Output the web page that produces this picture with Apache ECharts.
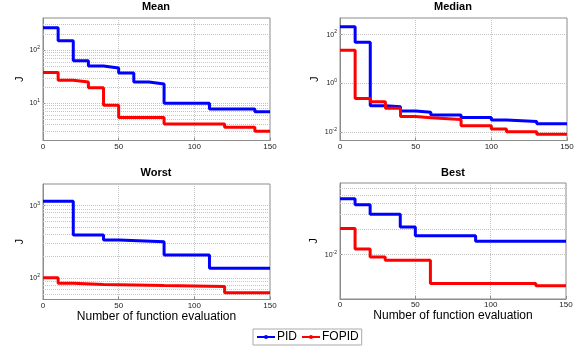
<!DOCTYPE html>
<html>
<head>
<meta charset="utf-8">
<script src="https://cdn.jsdelivr.net/npm/echarts@6/dist/echarts.min.js"></script>
<style>
  html, body { margin: 0; padding: 0; background: #fff; }
  #chart { width: 582px; height: 352px; }
</style>
</head>
<body>
<div id="chart"></div>
<script>
// Convergence of the objective J over function evaluations (step curves)

// x axis ticks (number of function evaluations)
const evalTicks = [0, 50, 100, 150];

// Mean
const meanPidX = [0, 10, 20, 30, 40, 50, 60, 70, 80, 110, 140, 150];
const meanPidJ = [262, 149, 63, 50, 46, 37, 25, 23, 10, 7.8, 6.9, 6.9];
const meanFopidX = [0, 10, 20, 30, 40, 50, 80, 120, 140, 150];
const meanFopidJ = [38, 27, 25, 19.6, 9.2, 5.4, 4.1, 3.55, 3.0, 3.0];
const meanTicks = [10, 100];

// Median
const medianPidX = [0, 10, 20, 30, 40, 50, 60, 80, 100, 110, 130, 150];
const medianPidJ = [209, 48, 0.121, 0.110, 0.073, 0.065, 0.050, 0.040, 0.031, 0.027, 0.022, 0.022];
const medianFopidX = [0, 10, 20, 30, 40, 50, 60, 80, 100, 110, 130, 150];
const medianFopidJ = [23, 0.24, 0.176, 0.094, 0.043, 0.039, 0.033, 0.018, 0.0134, 0.0104, 0.0081, 0.0081];
const medianTicks = [0.01, 1, 100];

// Worst
const worstPidX = [0, 20, 40, 50, 80, 110, 150];
const worstPidJ = [1150, 392, 334, 317, 207, 136, 136];
const worstFopidX = [0, 10, 20, 40, 80, 120, 150];
const worstFopidJ = [100, 84, 81, 78, 76, 62, 62];
const worstTicks = [100, 1000];

// Best
const bestPidX = [0, 10, 20, 40, 50, 90, 150];
const bestPidJ = [0.0456, 0.0387, 0.030, 0.0212, 0.0167, 0.01435, 0.01435];
const bestFopidX = [0, 10, 20, 30, 60, 130, 150];
const bestFopidJ = [0.0204, 0.01166, 0.0094, 0.0086, 0.00456, 0.00431, 0.00431];
const bestTicks = [0.01];

const panelTitles = ['Mean', 'Median', 'Worst', 'Best'];
const seriesNames = ['PID', 'FOPID'];

const PID_COLOR = '#0000ff';
const FOPID_COLOR = '#ff0000';
const FRAME = '#8c8c8c';
const GRIDLINE = '#c4c4c4';
const FONT = 'Liberation Sans, Arial, sans-serif';

const panels = [
  { pid: [meanPidX, meanPidJ], fopid: [meanFopidX, meanFopidJ], ticks: meanTicks, min: 2, max: 400, minor: true,
    grid: { left: 43, top: 18, width: 227, height: 122.5 }, title: [156, 1], xName: false, jGap: 18 },
  { pid: [medianPidX, medianPidJ], fopid: [medianFopidX, medianFopidJ], ticks: medianTicks, min: 0.0045, max: 480, minor: false,
    grid: { left: 340, top: 18, width: 227, height: 122.5 }, title: [453, 1], xName: false, jGap: 20 },
  { pid: [worstPidX, worstPidJ], fopid: [worstFopidX, worstFopidJ], ticks: worstTicks, min: 50, max: 2000, minor: true,
    grid: { left: 43, top: 184, width: 227, height: 115.5 }, title: [156, 167], xName: true, jGap: 16 },
  { pid: [bestPidX, bestPidJ], fopid: [bestFopidX, bestFopidJ], ticks: bestTicks, min: 0.003, max: 0.07, minor: true,
    grid: { left: 340, top: 183, width: 226, height: 116 }, title: [453, 167], xName: true, jGap: 21 }
];

function pairs(xs, ys) { return xs.map((x, i) => [x, ys[i]]); }

// values 2..9 x 10^d lying strictly inside the axis range, for minor grid lines
function minorValues(min, max) {
  const out = [];
  for (let d = Math.floor(Math.log10(min)); d <= Math.ceil(Math.log10(max)); d++) {
    for (let k = 2; k <= 9; k++) {
      const v = k * Math.pow(10, d);
      if (v > min * 1.001 && v < max * 0.999) out.push(v);
    }
  }
  return out;
}

function powLabel(v) {
  const e = Math.round(Math.log10(v));
  return '10{sup|' + e + '}';
}

const grids = [], xAxes = [], yAxes = [], series = [], titles = [];

panels.forEach((p, i) => {
  grids.push(Object.assign({ show: true, borderColor: FRAME, borderWidth: 1, backgroundColor: '#fff', containLabel: false }, p.grid));
  titles.push({
    text: panelTitles[i], left: p.title[0], top: p.title[1], textAlign: 'center', padding: 0,
    textStyle: { fontFamily: FONT, fontSize: 11, fontWeight: 'bold', color: '#000' }
  });
  xAxes.push({
    type: 'value', gridIndex: i, min: evalTicks[0], max: evalTicks[evalTicks.length - 1], interval: 50,
    name: p.xName ? 'Number of function evaluation' : '', nameLocation: 'middle', nameGap: 10,
    nameTextStyle: { fontFamily: FONT, fontSize: 12, color: '#000' },
    axisLine: { show: true, lineStyle: { color: FRAME } },
    axisTick: { show: true, inside: true, length: 3, lineStyle: { color: FRAME } },
    axisLabel: { fontFamily: FONT, fontSize: 8, color: '#222', margin: 2 },
    splitLine: { show: true, lineStyle: { color: GRIDLINE, type: 'dotted', width: 1 } }
  });
  yAxes.push({
    type: 'log', logBase: 10, gridIndex: i, min: p.min, max: p.max,
    name: 'J', nameLocation: 'middle', nameGap: p.jGap, nameRotate: 90,
    nameTextStyle: { fontFamily: FONT, fontSize: 11, color: '#000' },
    axisLine: { show: true, lineStyle: { color: FRAME } },
    axisTick: { show: true, inside: true, length: 3, customValues: p.ticks, lineStyle: { color: FRAME } },
    axisLabel: {
      fontFamily: FONT, fontSize: 7, color: '#222', margin: 3,
      customValues: p.ticks,
      formatter: powLabel,
      rich: { sup: { fontFamily: FONT, fontSize: 5, color: '#222', verticalAlign: 'top', padding: [0, 0, 5, 0] } }
    },
    splitLine: { show: false }
  });
  // horizontal grid lines: decades plus (where shown) the 2..9 sub-divisions, kept under the curves
  const gridValues = p.ticks.concat(p.minor ? minorValues(p.min, p.max) : []);
  series.push({
    type: 'line', name: 'grid' + i, xAxisIndex: i, yAxisIndex: i, data: [], z: 1, silent: true,
    markLine: {
      z: 1, silent: true, symbol: 'none', animation: false, label: { show: false },
      lineStyle: { color: GRIDLINE, type: 'dotted', width: 1 },
      emphasis: { disabled: true },
      data: gridValues.map(v => ({ yAxis: v }))
    }
  });
  [[p.pid, PID_COLOR, seriesNames[0]], [p.fopid, FOPID_COLOR, seriesNames[1]]].forEach(([d, color, name]) => {
    series.push({
      type: 'line', name: name, step: 'end', xAxisIndex: i, yAxisIndex: i, z: 3,
      data: pairs(d[0], d[1]),
      showSymbol: false, symbol: 'circle', symbolSize: 3,
      color: color,
      lineStyle: { color: color, width: 3 },
      emphasis: { disabled: true }
    });
  });
});

const chart = echarts.init(document.getElementById('chart'), null, { renderer: 'canvas' });
chart.setOption({
  animation: false,
  backgroundColor: '#fff',
  title: titles,
  grid: grids,
  xAxis: xAxes,
  yAxis: yAxes,
  legend: {
    data: seriesNames, left: 253, top: 329, orient: 'horizontal',
    itemWidth: 18, itemHeight: 5, itemGap: 4, padding: [2, 3],
    borderColor: '#aaaaaa', borderWidth: 1, backgroundColor: '#fff',
    textStyle: { fontFamily: FONT, fontSize: 12, color: '#000', padding: [0, 0, 0, -3] }
  },
  series: series
});
</script>
</body>
</html>
